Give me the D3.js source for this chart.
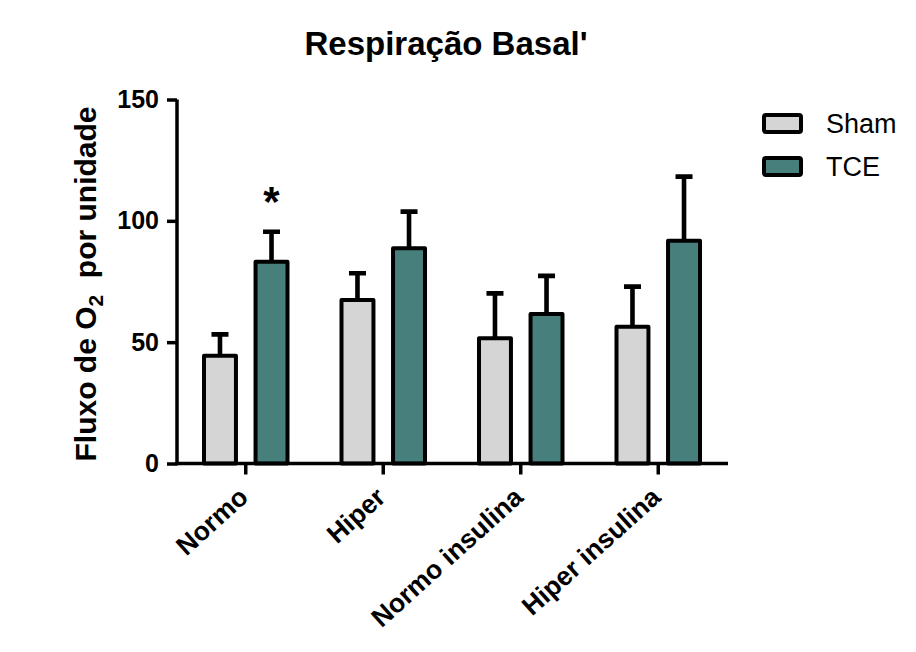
<!DOCTYPE html>
<html>
<head>
<meta charset="utf-8">
<script src="https://cdn.jsdelivr.net/npm/d3@7"></script>
<style>
    html, body { margin: 0; padding: 0; background: #fff; }
    text { font-family: "Liberation Sans", Arial, Helvetica, sans-serif; }
</style>
</head>
<body>
<svg id="chart" width="916" height="652"></svg>
<script>
'use strict';

// categories and series
var categories = ['Normo', 'Hiper', 'Normo insulina', 'Hiper insulina'];
var series = ['Sham', 'TCE'];
var shamMeans = [44.4, 67.4, 51.6, 56.4];
var shamErrors = [8.8, 11.0, 18.5, 16.5];
var tceMeans = [83.1, 88.7, 61.6, 91.8];
var tceErrors = [12.4, 15.1, 15.7, 26.4];
var yTicks = [0, 50, 100, 150];
var significant = [{ category: 'Normo', serie: 'TCE', mark: '*' }];

var colors = { Sham: '#d5d5d5', TCE: '#467f7c' };

var svg = d3.select('#chart');
var margin = { top: 99.5, left: 177, right: 189, bottom: 188.5 };
var width = 916 - margin.left - margin.right;
var height = 652 - margin.top - margin.bottom;

var rows = categories.map(function (c, i) {
    return {
        category: c,
        values: [
            { serie: 'Sham', mean: shamMeans[i], err: shamErrors[i] },
            { serie: 'TCE', mean: tceMeans[i], err: tceErrors[i] }
        ]
    };
});

var x0 = d3.scaleBand().domain(categories).range([0, width]);
var groupWidth = 83.5;
var x1 = d3.scaleBand().domain(series).range([0, groupWidth]).paddingInner(0.38);
var groupOffset = (x0.bandwidth() - groupWidth) / 2;
var y = d3.scaleLinear().domain([0, 150]).range([height, 0]);

var g = svg.append('g').attr('transform', 'translate(' + margin.left + ',' + margin.top + ')');

var groups = g.selectAll('g.group')
    .data(rows)
    .enter()
    .append('g')
    .attr('class', 'group')
    .attr('transform', function (d) {
        return 'translate(' + (x0(d.category) + groupOffset) + ',0)';
    });

// error bars (upper only), drawn under the bars
groups.selectAll('path.err')
    .data(function (d) { return d.values; })
    .enter()
    .append('path')
    .attr('class', 'err')
    .attr('d', function (d) {
        var cx = x1(d.serie) + x1.bandwidth() / 2;
        var top = y(d.mean + d.err);
        return 'M' + cx + ',' + y(d.mean) + 'V' + top +
            'M' + (cx - 8.5) + ',' + top + 'H' + (cx + 8.5);
    })
    .attr('stroke', '#000')
    .attr('stroke-width', 4.6)
    .attr('fill', 'none');

groups.selectAll('rect')
    .data(function (d) { return d.values; })
    .enter()
    .append('rect')
    .attr('x', function (d) { return x1(d.serie); })
    .attr('y', function (d) { return y(d.mean); })
    .attr('width', x1.bandwidth())
    .attr('height', function (d) { return height - y(d.mean); })
    .attr('fill', function (d) { return colors[d.serie]; })
    .attr('stroke', '#000')
    .attr('stroke-width', 4)
    .attr('stroke-linejoin', 'round');

// significance marks
g.selectAll('text.sig')
    .data(significant)
    .enter()
    .append('text')
    .attr('class', 'sig')
    .attr('x', function (d) {
        return x0(d.category) + groupOffset + x1(d.serie) + x1.bandwidth() / 2;
    })
    .attr('y', function (d) {
        var row = rows[categories.indexOf(d.category)];
        var v = row.values[series.indexOf(d.serie)];
        return y(v.mean + v.err) - 16;
    })
    .attr('text-anchor', 'middle')
    .attr('font-size', 42)
    .attr('font-weight', 'bold')
    .text(function (d) { return d.mark; });

// axes
var yAxis = g.append('g')
    .call(d3.axisLeft(y).tickValues(yTicks).tickSize(10).tickPadding(8));
var xAxis = g.append('g')
    .attr('transform', 'translate(0,' + height + ')')
    .call(d3.axisBottom(x0).tickSize(11).tickSizeOuter(0).tickFormat(''));

[yAxis, xAxis].forEach(function (a) {
    a.select('.domain').attr('stroke-width', 3.5).attr('stroke', '#000');
    a.selectAll('.tick line').attr('stroke-width', 3.5).attr('stroke', '#000');
});
xAxis.select('.domain').attr('d', 'M-1.75,0H' + (width + 1));
yAxis.select('.domain').attr('d', 'M0,' + (height + 1.75) + 'V0');

yAxis.selectAll('.tick text')
    .attr('font-size', 25)
    .attr('font-weight', 'bold')
    .attr('font-family', '"Liberation Sans", Arial, sans-serif')
    .attr('fill', '#000');

// rotated category labels
g.selectAll('text.cat')
    .data(categories)
    .enter()
    .append('text')
    .attr('class', 'cat')
    .attr('transform', function (d) {
        return 'translate(' + (x0(d) + x0.bandwidth() / 2 + 4) + ',' + (height + 36) + ') rotate(-42)';
    })
    .attr('text-anchor', 'end')
    .attr('font-size', 26.5)
    .attr('font-weight', 'bold')
    .text(function (d) { return d; });

// y axis title with subscript
var yTitle = svg.append('text')
    .attr('transform', 'translate(96,284) rotate(-90)')
    .attr('text-anchor', 'middle')
    .attr('font-size', 30)
    .attr('font-weight', 'bold');
yTitle.append('tspan').text('Fluxo de O');
yTitle.append('tspan').attr('font-size', 21).attr('dy', 7).text('2');
yTitle.append('tspan').attr('dy', -7).text('\u00a0 por unidade');

// title
svg.append('text')
    .attr('x', 446)
    .attr('y', 55)
    .attr('text-anchor', 'middle')
    .attr('font-size', 33)
    .attr('font-weight', 'bold')
    .text("Respiração Basal'");

// legend
var legend = svg.append('g').attr('transform', 'translate(764,115)');
var items = legend.selectAll('g')
    .data(series)
    .enter()
    .append('g')
    .attr('transform', function (d, i) { return 'translate(0,' + (i * 43) + ')'; });
items.append('rect')
    .attr('width', 37)
    .attr('height', 17)
    .attr('rx', 2)
    .attr('fill', function (d) { return colors[d]; })
    .attr('stroke', '#000')
    .attr('stroke-width', 4);
items.append('text')
    .attr('x', 62)
    .attr('y', 18)
    .attr('font-size', 27)
    .text(function (d) { return d; });
</script>
</body>
</html>
